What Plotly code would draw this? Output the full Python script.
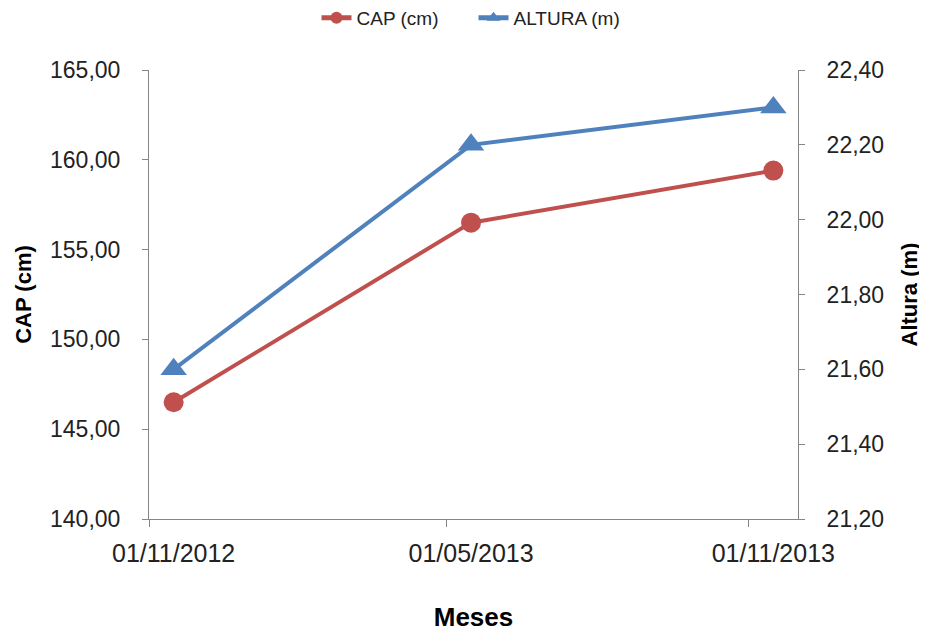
import plotly.graph_objects as go

# Data
dates = ["2012-11-16", "2013-05-16", "2013-11-16"]
date_labels = ["01/11/2012", "01/05/2013", "01/11/2013"]
cap_cm = [146.5, 156.5, 159.4]
altura_m = [21.60, 22.20, 22.30]
month_ticks = ["2012-11-01", "2013-05-01", "2013-11-01"]

RED = "#C0504D"
BLUE = "#4F81BD"
AXIS = "#868686"
FONT = "Liberation Sans"

fig = go.Figure()
fig.add_trace(go.Scatter(
    x=dates, y=cap_cm, name="CAP (cm)", mode="lines+markers",
    line=dict(color=RED, width=4),
    marker=dict(symbol="circle", size=20, color=RED),
    yaxis="y",
))
fig.add_trace(go.Scatter(
    x=dates, y=altura_m, name="ALTURA (m)", mode="lines+markers",
    line=dict(color=BLUE, width=4),
    marker=dict(symbol="triangle-up", size=23, color=BLUE),
    yaxis="y2",
))

fig.update_layout(
    width=919, height=626,
    margin=dict(l=141, r=129, t=62, b=115),
    paper_bgcolor="white", plot_bgcolor="white",
    separators=",.",
    font=dict(family=FONT, color="#222222"),
    showlegend=True,
    legend=dict(orientation="h", x=0.5, xanchor="center", y=0.984, yanchor="middle",
                yref="container", font=dict(size=19, family=FONT, color="#222222"),
                itemsizing="constant", traceorder="normal", entrywidth=112),
    xaxis=dict(
        type="date", range=["2012-11-01", "2013-12-01"],
        tickmode="array", tickvals=dates, ticktext=date_labels,
        ticks="", showgrid=False, zeroline=False, automargin=False,
        showline=True, linecolor=AXIS, linewidth=1,
        tickfont=dict(size=25, family=FONT, color="#222222"),
        ticklabelstandoff=12,
        minor=dict(ticks="outside", ticklen=7, tickcolor=AXIS, tickwidth=1,
                   tickmode="array", tickvals=month_ticks, showgrid=False),
        title=dict(text="<b>Meses</b>", font=dict(size=26, family=FONT, color="#000000"),
                   standoff=41),
    ),
    yaxis=dict(
        range=[140, 165], dtick=5, tick0=140, tickformat=".2f",
        ticks="outside", ticklen=6, tickcolor=AXIS,
        showgrid=False, zeroline=False, automargin=False,
        showline=True, linecolor=AXIS, linewidth=1,
        tickfont=dict(size=23, family=FONT, color="#222222"),
        ticklabelstandoff=17,
        title=dict(text="<b>CAP (cm)</b>", font=dict(size=22, family=FONT, color="#000000"),
                   standoff=12),
    ),
    yaxis2=dict(
        range=[21.2, 22.4], dtick=0.2, tick0=21.2, tickformat=".2f",
        overlaying="y", side="right",
        ticks="outside", ticklen=6, tickcolor=AXIS,
        showgrid=False, zeroline=False, automargin=False,
        showline=True, linecolor=AXIS, linewidth=1,
        tickfont=dict(size=23, family=FONT, color="#222222"),
        ticklabelstandoff=17,
        title=dict(text="<b>Altura (m)</b>", font=dict(size=22, family=FONT, color="#000000"),
                   standoff=18),
    ),
)

fig.write_html("out.html")
